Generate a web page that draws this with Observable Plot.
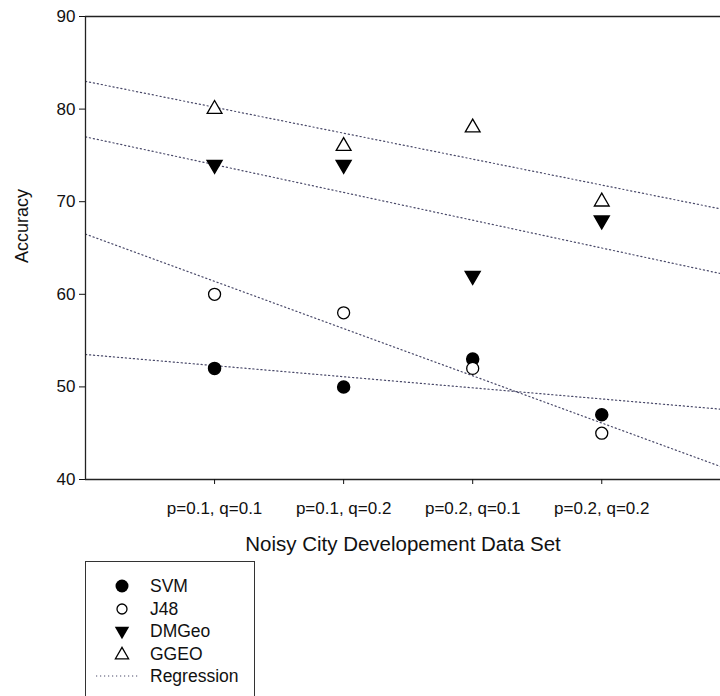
<!DOCTYPE html>
<html>
<head>
<meta charset="utf-8">
<script src="https://cdn.jsdelivr.net/npm/d3@7"></script>
<script src="https://cdn.jsdelivr.net/npm/@observablehq/plot@0.6"></script>
<style>
  body { margin: 0; background: #fff; font-family: "Liberation Sans", Arial, sans-serif; }
  #wrap { position: relative; width: 720px; height: 696px; overflow: hidden; }
  #legend { position: absolute; left: 85px; top: 561px; width: 170px; height: 140px;
            border: 1px solid #333; box-sizing: border-box; background: #fff; }
  .row { position: absolute; left: 0; height: 22px; }
  .row svg { position: absolute; left: 8px; top: 0; }
  .row span { position: absolute; left: 64px; top: 1px; font-size: 17.5px; line-height: 20px; color: #111; white-space: nowrap; }
</style>
</head>
<body>
<div id="wrap"><div id="chart"></div><div id="legend"></div></div>
<script>
// ---- data ----
const categories = ["p=0.1, q=0.1", "p=0.1, q=0.2", "p=0.2, q=0.1", "p=0.2, q=0.2"];
const svm   = [52, 50, 53, 47];
const j48   = [60, 58, 52, 45];
const dmgeo = [74, 74, 62, 68];
const ggeo  = [80, 76, 78, 70];
const seriesNames = ["SVM", "J48", "DMGeo", "GGEO"];
const yTicks = [40, 50, 60, 70, 80, 90];
const xDomain = [0, 4.92];
const yDomain = [40, 90];

const seriesValues = [svm, j48, dmgeo, ggeo];
const pts = [];
seriesValues.forEach((vals, s) => vals.forEach((v, i) => pts.push({series: seriesNames[s], x: i + 1, y: v})));

function linreg(vals) {
  const xs = vals.map((_, i) => i + 1);
  const mx = d3.mean(xs), my = d3.mean(vals);
  const sxy = d3.sum(xs, (x, i) => (x - mx) * (vals[i] - my));
  const sxx = d3.sum(xs, x => (x - mx) ** 2);
  const b = sxy / sxx, a = my - b * mx;
  return xDomain.map(x => ({x, y: a + b * x}));
}
const regLines = seriesValues.map((vals, s) => linreg(vals).map(d => ({...d, series: seriesNames[s]}))).flat();

const font = "Liberation Sans, Arial, sans-serif";
const chart = Plot.plot({
  width: 720,
  height: 560,
  marginLeft: 85,
  marginRight: 0,
  marginTop: 16,
  marginBottom: 81,
  style: {fontFamily: font, fontSize: "17px", color: "#111", background: "#fff"},
  x: {domain: xDomain, ticks: [1, 2, 3, 4], tickFormat: d => categories[d - 1]},
  y: {domain: yDomain, ticks: yTicks},
  marks: [
    Plot.line(regLines, {x: "x", y: "y", z: "series", stroke: "#4a4a6a", strokeWidth: 1.2, strokeDasharray: "1.2,2.8", clip: true}),
    Plot.ruleY([yDomain[1]], {stroke: "#222", strokeWidth: 1.3}),
    Plot.ruleY([yDomain[0]], {stroke: "#222", strokeWidth: 1.3}),
    Plot.ruleX([xDomain[0]], {stroke: "#222", strokeWidth: 1.3}),
    Plot.axisY({ticks: yTicks, tickSize: 6, tickPadding: 4, label: null, fontSize: 17}),
    Plot.axisX({ticks: [1, 2, 3, 4], tickFormat: d => categories[d - 1], tickSize: 5, tickPadding: 17, fontSize: 17, label: null}),
    Plot.text(["Noisy City Developement Data Set"], {frameAnchor: "bottom", dy: 71, fontSize: 20.5, text: d => d}),
    Plot.text(["Accuracy"], {frameAnchor: "left", textAnchor: "middle", dx: -63, dy: -22, rotate: -90, fontSize: 18, text: d => d}),
    Plot.dot(pts.filter(d => d.series === "SVM"), {x: "x", y: "y", r: 6, fill: "#000", stroke: "#000"}),
    Plot.dot(pts.filter(d => d.series === "J48"), {x: "x", y: "y", r: 6, fill: "#fff", stroke: "#000", strokeWidth: 1.3}),
    Plot.dot(pts.filter(d => d.series === "DMGeo"), {x: "x", y: "y", r: 5.5, symbol: "triangle", rotate: 180, fill: "#000", stroke: "#000"}),
    Plot.dot(pts.filter(d => d.series === "GGEO"), {x: "x", y: "y", r: 5.5, symbol: "triangle", fill: "#fff", stroke: "#000", strokeWidth: 1.3})
  ]
});
document.getElementById("chart").appendChild(chart);

// ---- legend ----
const legend = document.getElementById("legend");
const legendItems = [...seriesNames, "Regression"];
legendItems.forEach((name, i) => {
  const row = document.createElement("div");
  row.className = "row";
  row.style.top = (13 + i * 22.5) + "px";
  row.style.width = "160px";
  const svg = d3.create("svg").attr("width", 52).attr("height", 22);
  const cx = 28, cy = 11;
  if (name === "SVM") svg.append("circle").attr("cx", cx).attr("cy", cy).attr("r", 6.5).attr("fill", "#000");
  if (name === "J48") svg.append("circle").attr("cx", cx).attr("cy", cy).attr("r", 5).attr("fill", "#fff").attr("stroke", "#000").attr("stroke-width", 1.3);
  if (name === "DMGeo") svg.append("path").attr("d", d3.symbol(d3.symbolTriangle, 90)()).attr("transform", `translate(${cx},${cy}) rotate(180)`).attr("fill", "#000");
  if (name === "GGEO") svg.append("path").attr("d", d3.symbol(d3.symbolTriangle, 75)()).attr("transform", `translate(${cx},${cy + 1})`).attr("fill", "#fff").attr("stroke", "#000").attr("stroke-width", 1.3);
  if (name === "Regression") svg.append("line").attr("x1", 2).attr("x2", 44).attr("y1", cy).attr("y2", cy).attr("stroke", "#4a4a6a").attr("stroke-width", 1.2).attr("stroke-dasharray", "1.2,2.8");
  row.appendChild(svg.node());
  const span = document.createElement("span");
  span.textContent = name;
  row.appendChild(span);
  legend.appendChild(row);
});
</script>
</body>
</html>
